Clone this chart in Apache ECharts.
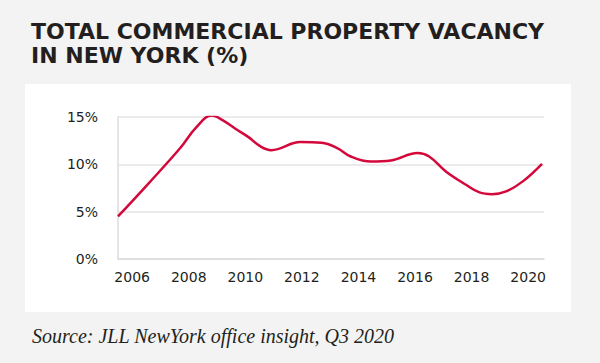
<!DOCTYPE html>
<html><head><meta charset="utf-8">
<script src="https://cdn.jsdelivr.net/npm/echarts@6/dist/echarts.min.js"></script>
<style>html,body{margin:0;padding:0;background:#f3f3f3;} #c{width:600px;height:363px;}</style>
</head><body><div id="c"></div>
<script>
const titleText = 'TOTAL COMMERCIAL PROPERTY VACANCY\nIN NEW YORK (%)';
const sourceText = 'Source: JLL NewYork office insight, Q3 2020';
const years = [2005.5, 2006.6, 2007.7, 2008.25, 2008.82, 2009.18, 2009.65, 2010.1, 2010.54, 2010.92, 2011.95, 2012.7, 2013.25, 2013.73, 2014.44, 2015.15, 2016.09, 2016.5, 2017.09, 2017.8, 2018.28, 2018.72, 2019.22, 2019.81, 2020.49];
const vacancy = [4.5, 8.05, 11.72, 13.85, 15.15, 14.7, 13.76, 12.9, 11.89, 11.5, 12.35, 12.28, 11.72, 10.83, 10.3, 10.41, 11.2, 10.83, 9.25, 7.85, 7.03, 6.85, 7.14, 8.2, 10.06];
const xTickLabels = [2006, 2008, 2010, 2012, 2014, 2016, 2018, 2020];
const yTickValues = [0, 5, 10, 15];

const chart = echarts.init(document.getElementById('c'), null, {renderer: 'svg'});
chart.setOption({
  backgroundColor: '#f3f3f3',
  animation: false,
  title: [
    {text: titleText, left: 31, top: 19, padding: 0,
     textStyle: {fontFamily: 'DejaVu Sans', fontWeight: 'bold', fontSize: 22, lineHeight: 24, color: '#231f20'}},
    {text: sourceText, left: 32, top: 326, padding: 0,
     textStyle: {fontFamily: 'Liberation Serif', fontStyle: 'italic', fontWeight: 'normal', fontSize: 20, lineHeight: 20, color: '#231f20'}}
  ],
  graphic: [{type: 'rect', z: -10, silent: true, shape: {x: 25, y: 84, width: 546, height: 228}, style: {fill: '#ffffff'}}],
  grid: {left: 118, right: 56, top: 117, bottom: 104, containLabel: false},
  xAxis: {
    type: 'value', min: 2005.5, max: 2020.56,
    axisLine: {show: true, lineStyle: {color: '#dcdcdc', width: 1.5}},
    axisTick: {show: false},
    splitLine: {show: false},
    axisLabel: {customValues: xTickLabels, margin: 11, fontFamily: 'DejaVu Sans', fontSize: 14, color: '#231f20', formatter: v => String(v)}
  },
  yAxis: {
    type: 'value', min: 0, max: 15, interval: 5,
    axisLine: {show: true, lineStyle: {color: '#dcdcdc', width: 1.5}},
    axisTick: {show: false},
    splitLine: {show: true, lineStyle: {color: '#e4e4e4', width: 1.5}},
    axisLabel: {customValues: yTickValues, margin: 20, fontFamily: 'DejaVu Sans', fontSize: 14, color: '#231f20', formatter: '{value}%'}
  },
  series: [{
    type: 'line', data: years.map((y, i) => [y, vacancy[i]]),
    smooth: 0.4, showSymbol: false,
    lineStyle: {color: '#d4083a', width: 2.5}
  }]
});
</script></body></html>
